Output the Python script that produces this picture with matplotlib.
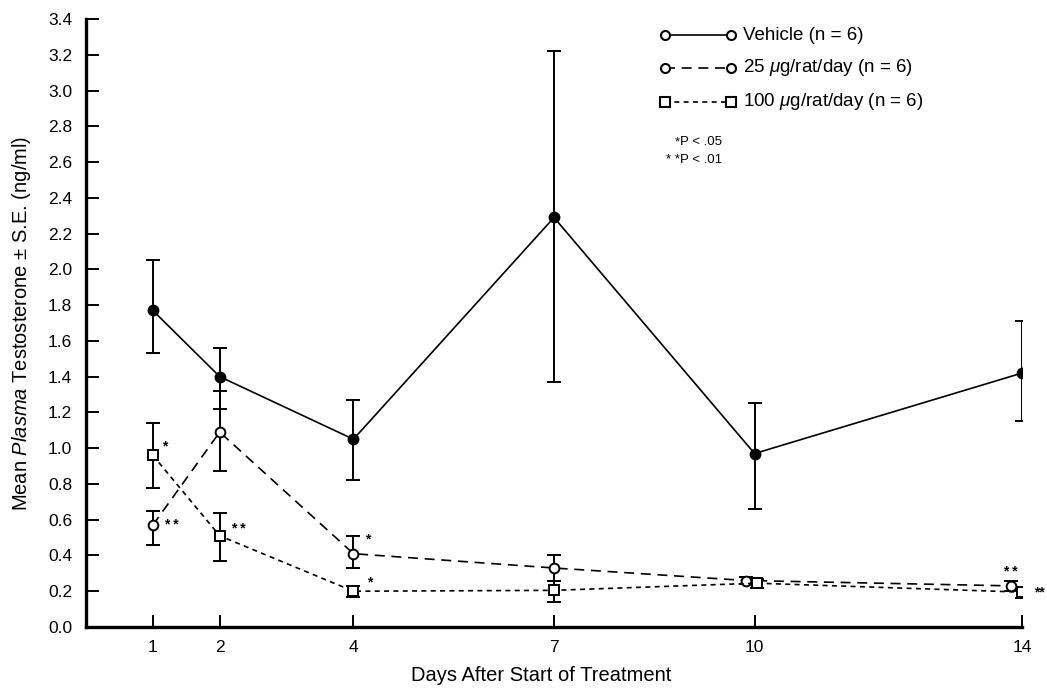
import matplotlib
matplotlib.use("Agg")
import matplotlib.pyplot as plt
import numpy as np
from matplotlib.lines import Line2D

plt.rcParams['font.family'] = ['Liberation Sans', 'DejaVu Sans']
plt.rcParams['mathtext.fontset'] = 'custom'
plt.rcParams['mathtext.rm'] = 'Liberation Sans'
plt.rcParams['mathtext.it'] = 'Liberation Sans:italic'

# ---------------- data ----------------
days = [1, 2, 4, 7, 10, 14]

vehicle_mean = [1.77, 1.40, 1.05, 2.29, 0.97, 1.42]
vehicle_upper = [2.05, 1.56, 1.27, 3.22, 1.25, 1.71]
vehicle_lower = [1.53, 1.22, 0.82, 1.37, 0.66, 1.15]

low_mean = [0.57, 1.09, 0.41, 0.33, 0.26, 0.23]
low_upper = [0.65, 1.32, 0.51, 0.40, 0.28, 0.26]
low_lower = [0.46, 0.87, 0.33, 0.26, 0.24, 0.20]

high_mean = [0.96, 0.51, 0.20, 0.205, 0.245, 0.195]
high_upper = [1.14, 0.64, 0.23, 0.26, 0.27, 0.22]
high_lower = [0.78, 0.37, 0.17, 0.14, 0.22, 0.16]

# small horizontal dodge used in the original to separate overlapping points
low_dodge = [0, 0, 0, 0, -0.13, -0.17]
high_dodge = [0, 0, 0, 0, 0.03, 0]

# significance marks: (x, y, label)
sig_x = [1.17, 1.28, 2.28, 4.22, 4.24, 13.82, 14.26]
sig_y = [1.01, 0.57, 0.55, 0.49, 0.25, 0.31, 0.195]
sig_lab = ['*', '* *', '* *', '*', '*', '* *', '**']

xticks = [1, 2, 4, 7, 10, 14]
yticks = np.round(np.arange(0, 3.41, 0.2), 1)

legend_labels = ['Vehicle (n = 6)', r'25 $\mu$g/rat/day (n = 6)', r'100 $\mu$g/rat/day (n = 6)']

# ---------------- figure ----------------
W, H = 1047, 688
fig = plt.figure(figsize=(W / 100, H / 100), dpi=100)
ax = fig.add_axes([86 / W, 1 - 627 / H, (1022 - 86) / W, (627 - 19) / H])

def yerr(m, lo, up):
    m = np.array(m); return [m - np.array(lo), np.array(up) - m]

d = np.array(days, dtype=float)
lw = 1.2
ekw = dict(elinewidth=1.4, capsize=5, capthick=1.4, ecolor='black')

ax.errorbar(d, vehicle_mean, yerr=yerr(vehicle_mean, vehicle_lower, vehicle_upper),
            color='black', lw=lw, marker='o', ms=7.5, mfc='black', mec='black',
            zorder=3, **ekw)
ax.errorbar(d + np.array(low_dodge), low_mean, yerr=yerr(low_mean, low_lower, low_upper),
            color='black', lw=lw, ls=(0, (6, 4)), marker='o', ms=7, mfc='white',
            mec='black', mew=1.4, zorder=4, **ekw)
ax.errorbar(d + np.array(high_dodge), high_mean, yerr=yerr(high_mean, high_lower, high_upper),
            color='black', lw=lw, ls=(0, (3, 2.6)), marker='s', ms=6.5, mfc='white',
            mec='black', mew=1.4, zorder=4, **ekw)

for x, y, s in zip(sig_x, sig_y, sig_lab):
    ax.text(x, y, s, fontsize=10, fontweight='bold', ha='center', va='center', clip_on=False)

ax.set_xlim(0, 14)
ax.set_ylim(0, 3.4)
ax.set_xticks(xticks)
ax.set_xticklabels([str(t) for t in xticks])
ax.set_yticks(yticks)
ax.set_yticklabels([f'{t:.1f}' for t in yticks])
for s in ['top', 'right']:
    ax.spines[s].set_visible(False)
for s in ['left', 'bottom']:
    ax.spines[s].set_linewidth(2.4)
ax.tick_params(axis='both', direction='in', length=9, width=1.4, labelsize=12.5)
ax.tick_params(axis='y', pad=10)
ax.tick_params(axis='x', pad=9)

ax.set_xlabel('Days After Start of Treatment', fontsize=14.5, labelpad=8)
ax.xaxis.label.set_x((541 - 86) / (1022 - 86))
ax.set_ylabel(r'Mean $\it{Plasma}$ Testosterone $\pm$ S.E. (ng/ml)', fontsize=14.5, labelpad=11)

# ---------------- legend (drawn by hand like the original) ----------------
rows_y = [35, 68, 102]
styles = [dict(ls='-', marker='o'), dict(ls=(0, (6, 4)), marker='o'), dict(ls=(0, (3, 2.6)), marker='s')]
for yy, st, lab in zip(rows_y, styles, legend_labels):
    fy = 1 - yy / H
    ln = Line2D([665 / W, 731 / W], [fy, fy], transform=fig.transFigure, color='black',
                lw=lw, ls=st['ls'], marker=st['marker'], ms=6.5, mfc='white', mec='black', mew=1.5)
    fig.add_artist(ln)
    fig.text(743 / W, fy, lab, fontsize=13.5, ha='left', va='center')

fig.text(680 / W, 1 - 142 / H, '*', fontsize=9.5, ha='right', va='center')
fig.text(680 / W, 1 - 142 / H, 'P < .05', fontsize=9.5, ha='left', va='center')
fig.text(680 / W, 1 - 160 / H, '* *', fontsize=9.5, ha='right', va='center')
fig.text(680 / W, 1 - 160 / H, 'P < .01', fontsize=9.5, ha='left', va='center')

fig.savefig('out.png', dpi=100)
